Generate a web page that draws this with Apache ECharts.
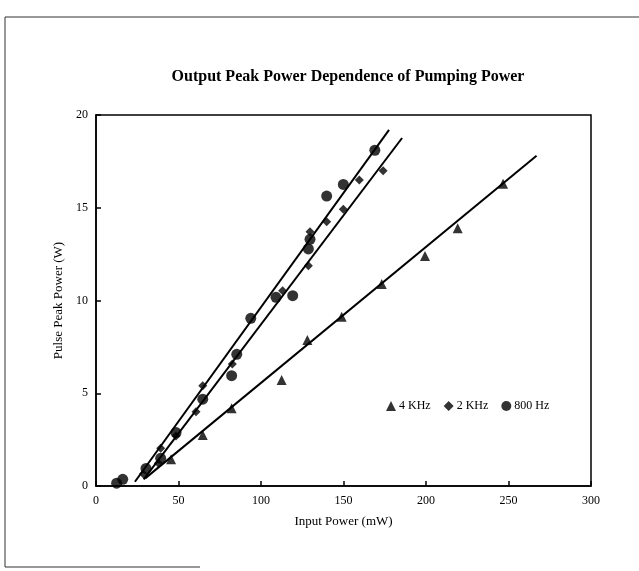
<!DOCTYPE html>
<html>
<head>
<meta charset="utf-8">
<script src="https://cdn.jsdelivr.net/npm/echarts@6/dist/echarts.min.js"></script>
<style>html,body{margin:0;padding:0;background:#fff}#c{width:639px;height:571px}</style>
</head>
<body>
<div id="c"></div>
<script>
// Data
const seriesNames = ['4 KHz', '2 KHz', '800 Hz'];
const data4k = [[45.5,1.44],[64.7,2.75],[82.2,4.19],[112.5,5.71],[128.1,7.87],[148.9,9.13],[173.2,10.89],[199.4,12.4],[219.2,13.89],[246.7,16.3]];
const data2k = [[28.7,0.65],[37.8,1.22],[39.2,2.03],[48.5,2.7],[60.6,4.0],[64.7,5.41],[82.6,6.58],[113.1,10.53],[128.7,11.88],[129.7,13.71],[139.8,14.25],[149.9,14.92],[159.6,16.5],[174,17.0]];
const data800 = [[12.5,0.15],[16.2,0.36],[30.3,0.95],[39.2,1.49],[48.5,2.88],[64.7,4.68],[82.2,5.95],[85.3,7.1],[93.8,9.04],[109.1,10.17],[119.2,10.26],[128.7,12.78],[129.7,13.3],[139.8,15.63],[149.9,16.26],[169,18.1]];
const fit4k = [[29.8,0.41],[267,17.8]];
const fit2k = [[28.9,0.36],[185.5,18.76]];
const fit800 = [[23.6,0.23],[177.6,19.2]];
const xTicks = [0,50,100,150,200,250,300];
const yTicks = [0,5,10,15,20];

const serif = 'Liberation Serif, Times New Roman, serif';
const chart = echarts.init(document.getElementById('c'));
const fitLine = (d) => ({type:'line', data:d, symbol:'none', silent:true, lineStyle:{color:'#000', width:2}, z:2});
chart.setOption({
  backgroundColor:'#fff',
  animation:false,
  title:{text:'Output Peak Power Dependence of Pumping Power', left:343, textAlign:'center', top:64,
    textStyle:{fontFamily:serif, fontSize:16, fontWeight:'bold', color:'#000'}},
  legend:{data:seriesNames, left:381, top:395, itemWidth:10, itemHeight:10, itemGap:13,
    textStyle:{fontFamily:serif, fontSize:12, color:'#000', padding:[0,0,0,-2]}},
  grid:{left:96, right:48, top:115, bottom:85, show:true, borderColor:'#000', borderWidth:1.5},
  xAxis:{type:'value', min:xTicks[0], max:xTicks[xTicks.length-1], interval:50,
    name:'Input Power (mW)', nameLocation:'middle', nameGap:29,
    nameTextStyle:{fontFamily:serif, fontSize:13, color:'#000'},
    axisLine:{lineStyle:{color:'#000', width:1.5}},
    axisTick:{inside:true, length:5, lineStyle:{color:'#000', width:1.5}},
    axisLabel:{fontFamily:serif, fontSize:12, color:'#000', margin:9},
    splitLine:{show:false}},
  yAxis:{type:'value', min:yTicks[0], max:yTicks[yTicks.length-1], interval:5,
    name:'Pulse Peak Power (W)', nameLocation:'middle', nameGap:27, nameRotate:90,
    nameTextStyle:{fontFamily:serif, fontSize:13, color:'#000'},
    axisLine:{lineStyle:{color:'#000', width:1.5}},
    axisTick:{inside:true, length:5, lineStyle:{color:'#000', width:1.5}},
    axisLabel:{fontFamily:serif, fontSize:12, color:'#000', margin:8},
    splitLine:{show:false}},
  graphic:[
    {type:'line', shape:{x1:5, y1:17, x2:639, y2:17}, style:{stroke:'#333', lineWidth:1}},
    {type:'line', shape:{x1:5, y1:17, x2:5, y2:567}, style:{stroke:'#333', lineWidth:1}},
    {type:'line', shape:{x1:5, y1:567, x2:200, y2:567}, style:{stroke:'#333', lineWidth:1}}
  ],
  series:[
    {name:seriesNames[0], type:'scatter', data:data4k, symbol:'triangle', symbolSize:10, itemStyle:{color:'#000'}, z:3},
    {name:seriesNames[1], type:'scatter', data:data2k, symbol:'diamond', symbolSize:9, itemStyle:{color:'#000'}, z:3},
    {name:seriesNames[2], type:'scatter', data:data800, symbol:'circle', symbolSize:11, itemStyle:{color:'#000'}, z:3},
    fitLine(fit4k), fitLine(fit2k), fitLine(fit800)
  ]
});
</script>
</body>
</html>
